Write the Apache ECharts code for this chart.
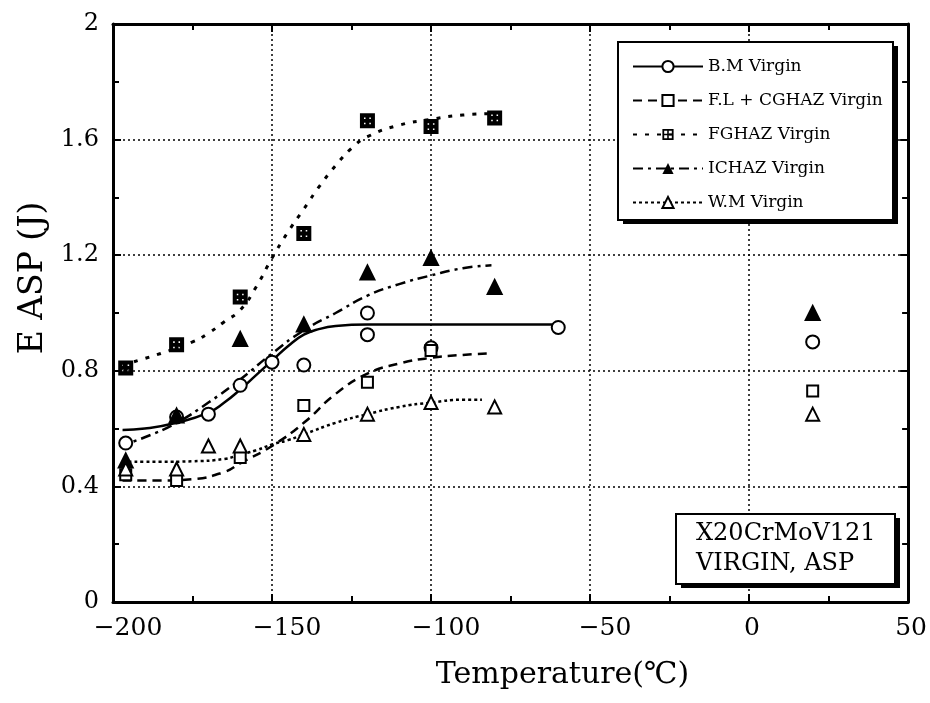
<!DOCTYPE html>
<html>
<head>
<meta charset="utf-8">
<script src="https://cdn.jsdelivr.net/npm/echarts@6/dist/echarts.min.js"></script>
<style>
  html, body { margin: 0; padding: 0; background: #fff; }
  #chart { width: 930px; height: 703px; }
</style>
</head>
<body>
<div id="chart"></div>
<script>
// measured points, [temperature, energy]
var bmPoints = [[-196, 0.55], [-180, 0.64], [-170, 0.65], [-160, 0.75], [-150, 0.83], [-140, 0.82],
  [-120, 1.0], [-120, 0.925], [-100, 0.88], [-60, 0.95], [20, 0.90]];
var flPoints = [[-196, 0.44], [-180, 0.42], [-160, 0.50], [-140, 0.68], [-120, 0.76], [-100, 0.87], [20, 0.73]];
var fgPoints = [[-196, 0.81], [-180, 0.89], [-160, 1.055], [-140, 1.275], [-120, 1.665], [-100, 1.645], [-80, 1.675]];
var icPoints = [[-196, 0.49], [-180, 0.645], [-160, 0.91], [-140, 0.96], [-120, 1.14], [-100, 1.19], [-80, 1.09], [20, 1.0]];
var wmPoints = [[-196, 0.46], [-180, 0.46], [-170, 0.54], [-160, 0.54], [-140, 0.58], [-120, 0.65], [-100, 0.69], [-80, 0.675], [20, 0.65]];

// fitted curves
var bmCurve = [[-197, 0.595], [-190, 0.6], [-180, 0.62], [-170, 0.655], [-165, 0.69], [-160, 0.735], [-155, 0.785],
  [-150, 0.835], [-145, 0.885], [-140, 0.925], [-135, 0.945], [-130, 0.955], [-120, 0.96], [-100, 0.96], [-80, 0.96], [-60, 0.96]];
var flCurve = [[-197, 0.42], [-185, 0.42], [-175, 0.425], [-165, 0.45], [-160, 0.48], [-150, 0.54], [-140, 0.62],
  [-130, 0.72], [-120, 0.79], [-110, 0.825], [-100, 0.845], [-90, 0.855], [-82, 0.86]];
var fgCurve = [[-197, 0.82], [-185, 0.86], [-175, 0.9], [-170, 0.93], [-165, 0.97], [-160, 1.01], [-155, 1.09],
  [-150, 1.19], [-145, 1.28], [-140, 1.36], [-135, 1.44], [-130, 1.51], [-125, 1.57], [-120, 1.61], [-110, 1.65],
  [-100, 1.67], [-90, 1.685], [-80, 1.69]];
var icCurve = [[-198, 0.54], [-190, 0.57], [-180, 0.62], [-170, 0.69], [-160, 0.77], [-150, 0.86], [-140, 0.94],
  [-130, 1.0], [-120, 1.06], [-110, 1.10], [-100, 1.13], [-90, 1.155], [-81, 1.165]];
var wmCurve = [[-197, 0.485], [-185, 0.485], [-175, 0.487], [-165, 0.495], [-160, 0.51], [-155, 0.525], [-150, 0.545],
  [-145, 0.56], [-140, 0.58], [-130, 0.62], [-120, 0.65], [-110, 0.675], [-100, 0.69], [-90, 0.70], [-84, 0.70]];

var names = ['B.M Virgin', 'F.L + CGHAZ Virgin', 'FGHAZ Virgin', 'ICHAZ Virgin', 'W.M Virgin'];

var FONT = '"DejaVu Serif", "Liberation Serif", serif';
var gridSym = 'path://M0 0H10V1.6H0ZM0 8.4H10V10H0ZM0 0H1.6V10H0ZM8.4 0H10V10H8.4ZM4.3 0H5.7V10H4.3ZM0 4.3H10V5.7H0Z';

function curve(name, data, symbol, dash, width) {
    return {
        name: name,
        type: 'line',
        smooth: true,
        data: data,
        symbol: symbol,
        symbolSize: 12,
        showSymbol: false,
        itemStyle: { color: '#000', borderWidth: 2, opacity: 1 },
        lineStyle: { color: '#000', width: width, type: dash },
        z: 3
    };
}

function points(name, data, symbol, size) {
    return {
        name: name + ' pts',
        type: 'scatter',
        data: data,
        symbol: symbol,
        symbolSize: size,
        itemStyle: { color: '#000', borderColor: '#000', borderWidth: 2, opacity: 1 },
        z: 4
    };
}

// framed box with a solid offset shadow, as in the original figure
function box(x, y, w, h) {
    return [
        { type: 'rect', z: 5, shape: { x: x + 5, y: y + 4, width: w, height: h }, style: { fill: '#000' } },
        { type: 'rect', z: 6, shape: { x: x, y: y, width: w, height: h }, style: { fill: '#fff', stroke: '#000', lineWidth: 2 } }
    ];
}

function axisBits(extra) {
    var a = {
        axisLine: { onZero: false, lineStyle: { color: '#000', width: 3 } },
        axisTick: { show: true, inside: true, length: 8, lineStyle: { color: '#000', width: 2 } },
        minorTick: { show: true, splitNumber: 2, length: 6, lineStyle: { color: '#000', width: 2 } }
    };
    for (var k in extra) a[k] = extra[k];
    return a;
}

var gridLine = { show: true, lineStyle: { color: '#000', width: 1.5, type: [2, 3] } };

echarts.init(document.getElementById('chart')).setOption({
    animation: false,
    textStyle: { fontFamily: FONT },
    grid: { left: 113, right: 18, top: 24, bottom: 101 },
    graphic: box(618, 42, 275, 178).concat(box(676, 514, 219, 70)),
    title: {
        text: 'X20CrMoV121\nVIRGIN, ASP',
        left: 676,
        top: 514,
        z: 10,
        padding: [5, 18, 5, 20],
        textStyle: { fontFamily: FONT, fontWeight: 'normal', fontSize: 24, lineHeight: 30, color: '#000' }
    },
    legend: {
        data: names,
        orient: 'vertical',
        left: 618,
        top: 46,
        z: 10,
        padding: [12, 10, 12, 14],
        itemGap: 17,
        itemWidth: 70,
        itemHeight: 14,
        textStyle: { fontFamily: FONT, fontSize: 17, color: '#000' }
    },
    xAxis: [
        axisBits({
            type: 'value', min: -200, max: 50, interval: 50,
            name: 'Temperature(℃)', nameLocation: 'middle', nameGap: 58,
            nameTextStyle: { fontFamily: FONT, fontSize: 30, color: '#000', padding: [0, 0, 0, 104] },
            axisLabel: {
                margin: 14, color: '#000', fontSize: 25, fontFamily: FONT,
                formatter: function (v) { return v < 0 ? '{n|−' + (-v) + '}' : '{p|' + v + '}'; },
                rich: {
                    n: { fontFamily: FONT, fontSize: 25, color: '#000', padding: [0, 0, 0, 30] },
                    p: { fontFamily: FONT, fontSize: 25, color: '#000', padding: [0, 0, 0, 6] }
                }
            },
            splitLine: gridLine
        }),
        axisBits({
            type: 'value', min: -200, max: 50, interval: 50, position: 'top',
            axisLabel: { show: false },
            splitLine: { show: false }
        })
    ],
    yAxis: [
        axisBits({
            type: 'value', min: 0, max: 2, interval: 0.4,
            name: 'E ASP (J)', nameLocation: 'middle', nameGap: 62, nameRotate: 90,
            nameTextStyle: { fontFamily: FONT, fontSize: 33, color: '#000', padding: [0, 0, 0, 70] },
            axisLabel: { margin: 14, color: '#000', fontSize: 24, fontFamily: FONT },
            splitLine: gridLine
        }),
        axisBits({
            type: 'value', min: 0, max: 2, interval: 0.4, position: 'right',
            axisLabel: { show: false },
            splitLine: { show: false }
        })
    ],
    series: [
        curve(names[0], bmCurve, 'emptyCircle', 'solid', 2.5),
        curve(names[1], flCurve, 'emptyRect', [9, 6], 2.5),
        curve(names[2], fgCurve, gridSym, [4, 8], 3),
        curve(names[3], icCurve, 'triangle', [10, 5, 3, 5], 2.5),
        curve(names[4], wmCurve, 'emptyTriangle', [3, 3], 2.5),
        points(names[0], bmPoints, 'emptyCircle', 13),
        points(names[1], flPoints, 'emptyRect', 11),
        points(names[2], fgPoints, gridSym, 13),
        points(names[3], icPoints, 'triangle', 14),
        points(names[4], wmPoints, 'emptyTriangle', 13)
    ]
});
</script>
</body>
</html>
